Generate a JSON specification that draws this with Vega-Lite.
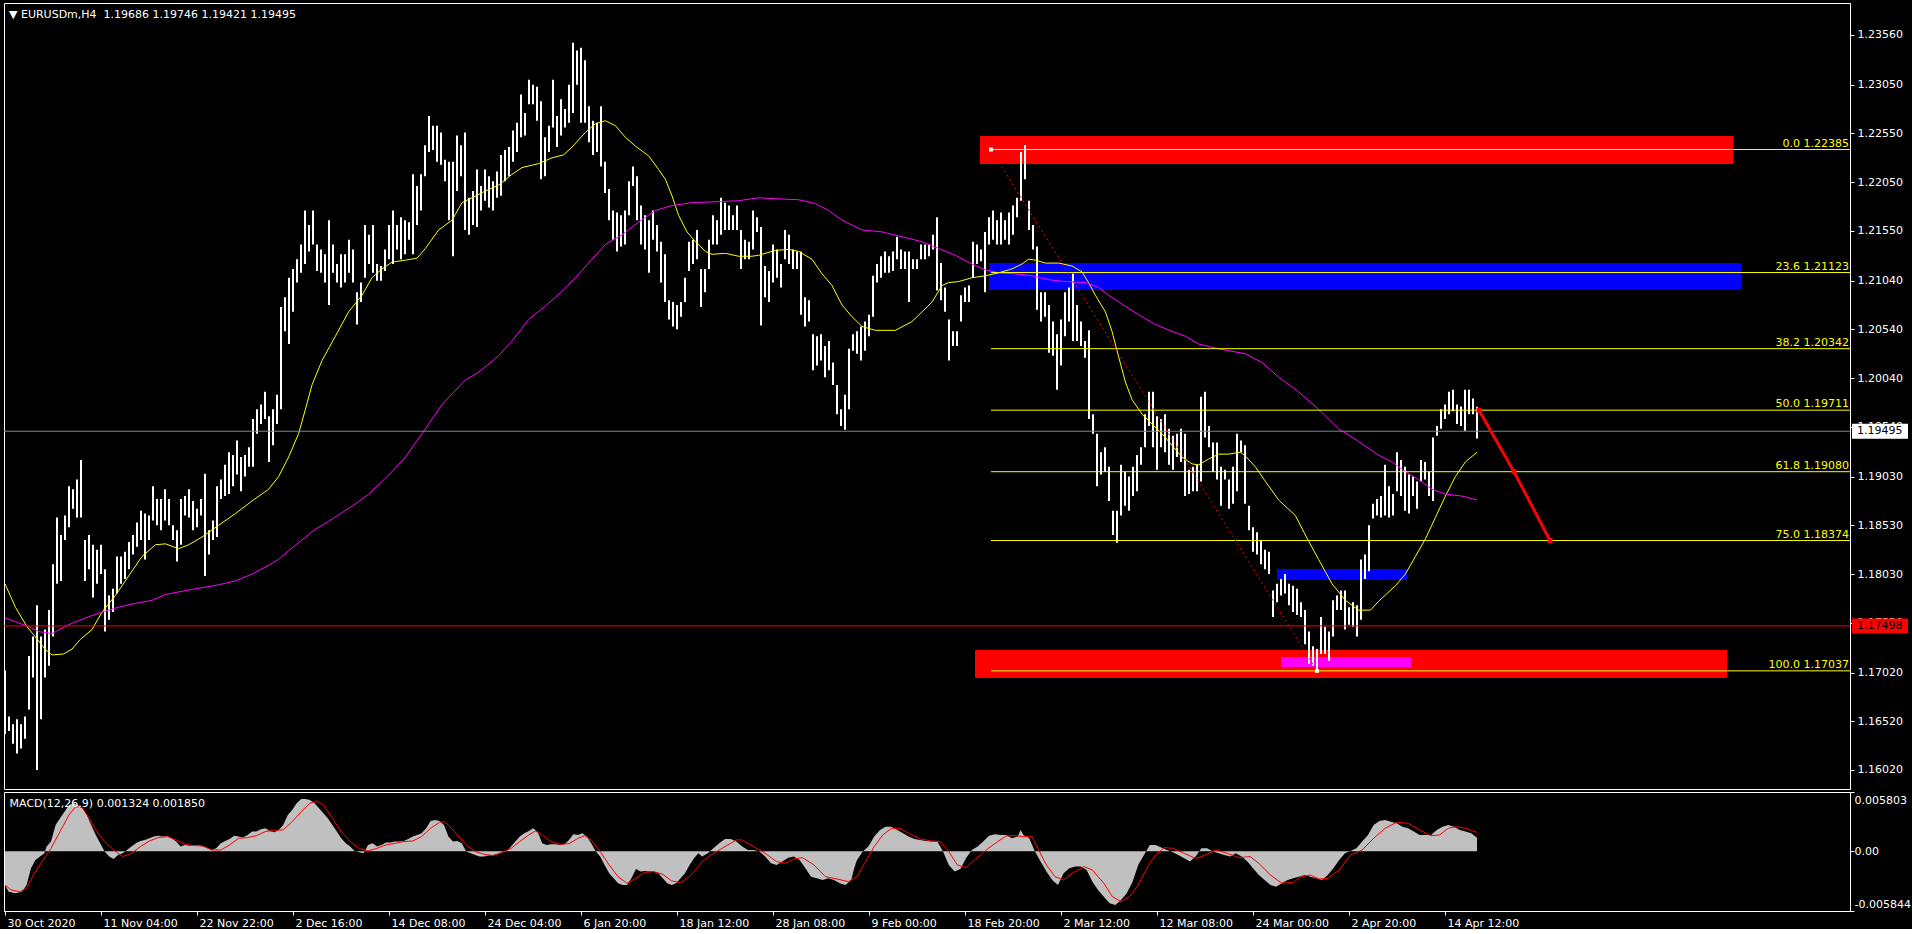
{
"$schema": "https://vega.github.io/schema/vega-lite/v6.json",
"background": "#000000",
"padding": {"left": 2, "top": 2, "right": 0, "bottom": 0},
"spacing": 3,
"bounds": "flush",
"config": {
  "view": {"stroke": "#ffffff", "strokeWidth": 1},
  "font": "DejaVu Sans",
  "axis": {"grid": false, "labelColor": "#ffffff", "tickColor": "#ffffff", "domainColor": "#ffffff", "labelFont": "DejaVu Sans", "labelFontSize": 11, "tickSize": 4, "labelPadding": 3, "titleOpacity": 0}
},
"datasets": {
  "zones": [
    {"zone": "top", "i1": 487.5, "i2": 864, "p1": 1.22237, "p2": 1.22524},
    {"zone": "fib", "i1": 492, "i2": 868, "p1": 1.20944, "p2": 1.21221},
    {"zone": "bottom", "i1": 485, "i2": 861, "p1": 1.16964, "p2": 1.17251},
    {"zone": "small", "i1": 636, "i2": 701, "p1": 1.17969, "p2": 1.18082},
    {"zone": "pink", "i1": 638, "i2": 703, "p1": 1.17077, "p2": 1.17179}
  ],
  "fib": [
    {"label": "0.0 1.22385", "p": 1.22385},
    {"label": "23.6 1.21123", "p": 1.21123},
    {"label": "38.2 1.20342", "p": 1.20342},
    {"label": "50.0 1.19711", "p": 1.19711},
    {"label": "61.8 1.19080", "p": 1.19080},
    {"label": "75.0 1.18374", "p": 1.18374},
    {"label": "100.0 1.17037", "p": 1.17037}
  ],
  "trend": [{"i": 493, "p": 1.22385}, {"i": 656, "p": 1.17037}],
  "arrow": [{"i": 737, "p": 1.19711}, {"i": 754.5, "p": 1.19080}, {"i": 772.5, "p": 1.18374}],
  "hlines": [{"name": "bid", "p": 1.19495, "label": "1.19495"}, {"name": "alert", "p": 1.17498, "label": "1.17498"}],
  "bars": [
{"i":0,"h":1.1704,"l":1.1639},{"i":2,"h":1.1657,"l":1.1642},{"i":4,"h":1.1649,"l":1.1629},{"i":6,"h":1.1654,"l":1.1619},{"i":8,"h":1.1649,"l":1.1624},{"i":10,"h":1.1657,"l":1.1634},{"i":12,"h":1.1719,"l":1.1664},{"i":14,"h":1.1739,"l":1.1697},{"i":16,"h":1.1771,"l":1.1602},{"i":18,"h":1.1739,"l":1.1654},
{"i":20,"h":1.1746,"l":1.1697},{"i":22,"h":1.1766,"l":1.1709},{"i":24,"h":1.1813,"l":1.1739},{"i":26,"h":1.1861,"l":1.1793},{"i":28,"h":1.1843,"l":1.1796},{"i":30,"h":1.1863,"l":1.1838},{"i":32,"h":1.1893,"l":1.1851},{"i":34,"h":1.1890,"l":1.1870},{"i":36,"h":1.1900,"l":1.1861},{"i":38,"h":1.1920,"l":1.1861},
{"i":40,"h":1.1838,"l":1.1796},{"i":42,"h":1.1843,"l":1.1808},{"i":44,"h":1.1833,"l":1.1779},{"i":46,"h":1.1828,"l":1.1793},{"i":48,"h":1.1833,"l":1.1803},{"i":50,"h":1.1808,"l":1.1744},{"i":52,"h":1.1781,"l":1.1756},{"i":54,"h":1.1788,"l":1.1764},{"i":56,"h":1.1821,"l":1.1783},{"i":58,"h":1.1821,"l":1.1793},
{"i":60,"h":1.1826,"l":1.1798},{"i":62,"h":1.1836,"l":1.1808},{"i":64,"h":1.1843,"l":1.1823},{"i":66,"h":1.1856,"l":1.1831},{"i":68,"h":1.1868,"l":1.1838},{"i":70,"h":1.1865,"l":1.1818},{"i":72,"h":1.1863,"l":1.1838},{"i":74,"h":1.1893,"l":1.1858},{"i":76,"h":1.1880,"l":1.1853},{"i":78,"h":1.1880,"l":1.1848},
{"i":80,"h":1.1890,"l":1.1858},{"i":82,"h":1.1880,"l":1.1853},{"i":84,"h":1.1853,"l":1.1838},{"i":86,"h":1.1848,"l":1.1816},{"i":88,"h":1.1880,"l":1.1833},{"i":90,"h":1.1883,"l":1.1863},{"i":92,"h":1.1890,"l":1.1861},{"i":94,"h":1.1878,"l":1.1848},{"i":96,"h":1.1870,"l":1.1851},{"i":98,"h":1.1880,"l":1.1863},
{"i":100,"h":1.1906,"l":1.1801},{"i":102,"h":1.1848,"l":1.1823},{"i":104,"h":1.1858,"l":1.1838},{"i":106,"h":1.1893,"l":1.1841},{"i":108,"h":1.1900,"l":1.1880},{"i":110,"h":1.1915,"l":1.1883},{"i":112,"h":1.1928,"l":1.1885},{"i":114,"h":1.1925,"l":1.1893},{"i":116,"h":1.1940,"l":1.1905},{"i":118,"h":1.1923,"l":1.1888},
{"i":120,"h":1.1925,"l":1.1903},{"i":122,"h":1.1933,"l":1.1913},{"i":124,"h":1.1962,"l":1.1913},{"i":126,"h":1.1972,"l":1.1947},{"i":128,"h":1.1977,"l":1.1957},{"i":130,"h":1.1990,"l":1.1962},{"i":132,"h":1.1965,"l":1.1918},{"i":134,"h":1.1972,"l":1.1935},{"i":136,"h":1.1987,"l":1.1957},{"i":138,"h":1.2077,"l":1.1972},
{"i":140,"h":1.2087,"l":1.2052},{"i":142,"h":1.2107,"l":1.2039},{"i":144,"h":1.2116,"l":1.2072},{"i":146,"h":1.2126,"l":1.2102},{"i":148,"h":1.2141,"l":1.2112},{"i":150,"h":1.2176,"l":1.2121},{"i":152,"h":1.2161,"l":1.2134},{"i":154,"h":1.2176,"l":1.2141},{"i":156,"h":1.2141,"l":1.2114},{"i":158,"h":1.2136,"l":1.2112},
{"i":160,"h":1.2131,"l":1.2102},{"i":162,"h":1.2166,"l":1.2079},{"i":164,"h":1.2141,"l":1.2112},{"i":166,"h":1.2121,"l":1.2102},{"i":168,"h":1.2131,"l":1.2097},{"i":170,"h":1.2131,"l":1.2102},{"i":172,"h":1.2146,"l":1.2112},{"i":174,"h":1.2136,"l":1.2102},{"i":176,"h":1.2092,"l":1.2059},{"i":178,"h":1.2102,"l":1.2082},
{"i":180,"h":1.2161,"l":1.2107},{"i":182,"h":1.2151,"l":1.2121},{"i":184,"h":1.2161,"l":1.2112},{"i":186,"h":1.2121,"l":1.2104},{"i":188,"h":1.2119,"l":1.2104},{"i":190,"h":1.2136,"l":1.2114},{"i":192,"h":1.2161,"l":1.2126},{"i":194,"h":1.2176,"l":1.2121},{"i":196,"h":1.2161,"l":1.2136},{"i":198,"h":1.2169,"l":1.2126},
{"i":200,"h":1.2166,"l":1.2131},{"i":202,"h":1.2164,"l":1.2146},{"i":204,"h":1.2213,"l":1.2131},{"i":206,"h":1.2201,"l":1.2161},{"i":208,"h":1.2213,"l":1.2176},{"i":210,"h":1.2243,"l":1.2211},{"i":212,"h":1.2273,"l":1.2236},{"i":214,"h":1.2263,"l":1.2238},{"i":216,"h":1.2263,"l":1.2226},{"i":218,"h":1.2256,"l":1.2223},
{"i":220,"h":1.2228,"l":1.2206},{"i":222,"h":1.2226,"l":1.2166},{"i":224,"h":1.2226,"l":1.2129},{"i":226,"h":1.2253,"l":1.2196},{"i":228,"h":1.2243,"l":1.2211},{"i":230,"h":1.2256,"l":1.2156},{"i":232,"h":1.2189,"l":1.2151},{"i":234,"h":1.2196,"l":1.2161},{"i":236,"h":1.2218,"l":1.2159},{"i":238,"h":1.2201,"l":1.2176},
{"i":240,"h":1.2218,"l":1.2186},{"i":242,"h":1.2211,"l":1.2179},{"i":244,"h":1.2206,"l":1.2176},{"i":246,"h":1.2216,"l":1.2189},{"i":248,"h":1.2233,"l":1.2191},{"i":250,"h":1.2238,"l":1.2206},{"i":252,"h":1.2241,"l":1.2211},{"i":254,"h":1.2258,"l":1.2226},{"i":256,"h":1.2266,"l":1.2236},{"i":258,"h":1.2295,"l":1.2251},
{"i":260,"h":1.2276,"l":1.2253},{"i":262,"h":1.2310,"l":1.2285},{"i":264,"h":1.2305,"l":1.2285},{"i":266,"h":1.2303,"l":1.2268},{"i":268,"h":1.2288,"l":1.2208},{"i":270,"h":1.2251,"l":1.2211},{"i":272,"h":1.2263,"l":1.2236},{"i":274,"h":1.2310,"l":1.2261},{"i":276,"h":1.2273,"l":1.2241},{"i":278,"h":1.2290,"l":1.2253},
{"i":280,"h":1.2280,"l":1.2261},{"i":282,"h":1.2305,"l":1.2266},{"i":284,"h":1.2348,"l":1.2276},{"i":286,"h":1.2340,"l":1.2305},{"i":288,"h":1.2343,"l":1.2266},{"i":290,"h":1.2330,"l":1.2266},{"i":292,"h":1.2283,"l":1.2246},{"i":294,"h":1.2268,"l":1.2233},{"i":296,"h":1.2266,"l":1.2236},{"i":298,"h":1.2283,"l":1.2221},
{"i":300,"h":1.2226,"l":1.2194},{"i":302,"h":1.2198,"l":1.2166},{"i":304,"h":1.2176,"l":1.2146},{"i":306,"h":1.2174,"l":1.2134},{"i":308,"h":1.2171,"l":1.2139},{"i":310,"h":1.2176,"l":1.2141},{"i":312,"h":1.2206,"l":1.2171},{"i":314,"h":1.2221,"l":1.2201},{"i":316,"h":1.2211,"l":1.2166},{"i":318,"h":1.2181,"l":1.2141},
{"i":320,"h":1.2171,"l":1.2136},{"i":322,"h":1.2166,"l":1.2112},{"i":324,"h":1.2176,"l":1.2146},{"i":326,"h":1.2161,"l":1.2134},{"i":328,"h":1.2144,"l":1.2102},{"i":330,"h":1.2131,"l":1.2082},{"i":332,"h":1.2084,"l":1.2064},{"i":334,"h":1.2082,"l":1.2057},{"i":336,"h":1.2079,"l":1.2054},{"i":338,"h":1.2082,"l":1.2067},
{"i":340,"h":1.2107,"l":1.2082},{"i":342,"h":1.2144,"l":1.2114},{"i":344,"h":1.2146,"l":1.2121},{"i":346,"h":1.2156,"l":1.2126},{"i":348,"h":1.2116,"l":1.2077},{"i":350,"h":1.2116,"l":1.2092},{"i":352,"h":1.2146,"l":1.2116},{"i":354,"h":1.2171,"l":1.2141},{"i":356,"h":1.2166,"l":1.2141},{"i":358,"h":1.2189,"l":1.2151},
{"i":360,"h":1.2184,"l":1.2156},{"i":362,"h":1.2181,"l":1.2156},{"i":364,"h":1.2171,"l":1.2156},{"i":366,"h":1.2181,"l":1.2156},{"i":368,"h":1.2156,"l":1.2116},{"i":370,"h":1.2146,"l":1.2126},{"i":372,"h":1.2144,"l":1.2126},{"i":374,"h":1.2176,"l":1.2136},{"i":376,"h":1.2169,"l":1.2154},{"i":378,"h":1.2159,"l":1.2058},
{"i":380,"h":1.2119,"l":1.2087},{"i":382,"h":1.2114,"l":1.2082},{"i":384,"h":1.2141,"l":1.2102},{"i":386,"h":1.2136,"l":1.2107},{"i":388,"h":1.2121,"l":1.2097},{"i":390,"h":1.2156,"l":1.2126},{"i":392,"h":1.2151,"l":1.2121},{"i":394,"h":1.2136,"l":1.2116},{"i":396,"h":1.2134,"l":1.2116},{"i":398,"h":1.2134,"l":1.2069},
{"i":400,"h":1.2087,"l":1.2057},{"i":402,"h":1.2084,"l":1.2062},{"i":404,"h":1.2049,"l":1.2012},{"i":406,"h":1.2047,"l":1.2017},{"i":408,"h":1.2049,"l":1.2022},{"i":410,"h":1.2037,"l":1.2005},{"i":412,"h":1.2042,"l":1.2012},{"i":414,"h":1.2020,"l":1.1997},{"i":416,"h":1.1997,"l":1.1967},{"i":418,"h":1.1972,"l":1.1955},
{"i":420,"h":1.1987,"l":1.1951},{"i":422,"h":1.2034,"l":1.1972},{"i":424,"h":1.2049,"l":1.2032},{"i":426,"h":1.2052,"l":1.2029},{"i":428,"h":1.2057,"l":1.2022},{"i":430,"h":1.2062,"l":1.2032},{"i":432,"h":1.2069,"l":1.2047},{"i":434,"h":1.2109,"l":1.2067},{"i":436,"h":1.2121,"l":1.2102},{"i":438,"h":1.2129,"l":1.2107},
{"i":440,"h":1.2134,"l":1.2112},{"i":442,"h":1.2129,"l":1.2112},{"i":444,"h":1.2134,"l":1.2114},{"i":446,"h":1.2149,"l":1.2126},{"i":448,"h":1.2136,"l":1.2116},{"i":450,"h":1.2134,"l":1.2116},{"i":452,"h":1.2134,"l":1.2082},{"i":454,"h":1.2126,"l":1.2116},{"i":456,"h":1.2126,"l":1.2116},{"i":458,"h":1.2141,"l":1.2126},
{"i":460,"h":1.2141,"l":1.2126},{"i":462,"h":1.2141,"l":1.2129},{"i":464,"h":1.2151,"l":1.2136},{"i":466,"h":1.2169,"l":1.2094},{"i":468,"h":1.2122,"l":1.2084},{"i":470,"h":1.2097,"l":1.2072},{"i":472,"h":1.2064,"l":1.2022},{"i":474,"h":1.2052,"l":1.2037},{"i":476,"h":1.2052,"l":1.2037},{"i":478,"h":1.2089,"l":1.2062},
{"i":480,"h":1.2097,"l":1.2082},{"i":482,"h":1.2099,"l":1.2082},{"i":484,"h":1.2144,"l":1.2107},{"i":486,"h":1.2141,"l":1.2121},{"i":488,"h":1.2136,"l":1.2124},{"i":490,"h":1.2154,"l":1.2092},{"i":492,"h":1.2169,"l":1.2141},{"i":494,"h":1.2176,"l":1.2146},{"i":496,"h":1.2166,"l":1.2141},{"i":498,"h":1.2174,"l":1.2141},
{"i":500,"h":1.2166,"l":1.2146},{"i":502,"h":1.2174,"l":1.2141},{"i":504,"h":1.2181,"l":1.2151},{"i":506,"h":1.2189,"l":1.2169},{"i":508,"h":1.2236,"l":1.2186},{"i":510,"h":1.2243,"l":1.2208},{"i":512,"h":1.2186,"l":1.2156},{"i":514,"h":1.2161,"l":1.2136},{"i":516,"h":1.2139,"l":1.2074},{"i":518,"h":1.2092,"l":1.2062},
{"i":520,"h":1.2092,"l":1.2067},{"i":522,"h":1.2079,"l":1.2030},{"i":524,"h":1.2062,"l":1.2027},{"i":526,"h":1.2049,"l":1.1992},{"i":528,"h":1.2064,"l":1.2017},{"i":530,"h":1.2092,"l":1.2047},{"i":532,"h":1.2097,"l":1.2062},{"i":534,"h":1.2111,"l":1.2042},{"i":536,"h":1.2079,"l":1.2042},{"i":538,"h":1.2062,"l":1.2037},
{"i":540,"h":1.2042,"l":1.2025},{"i":542,"h":1.2053,"l":1.1962},{"i":544,"h":1.1967,"l":1.1947},{"i":546,"h":1.1947,"l":1.1893},{"i":548,"h":1.1928,"l":1.1905},{"i":550,"h":1.1933,"l":1.1908},{"i":552,"h":1.1913,"l":1.1878},{"i":554,"h":1.1868,"l":1.1843},{"i":556,"h":1.1868,"l":1.1835},{"i":558,"h":1.1915,"l":1.1863},
{"i":560,"h":1.1908,"l":1.1873},{"i":562,"h":1.1903,"l":1.1868},{"i":564,"h":1.1913,"l":1.1883},{"i":566,"h":1.1925,"l":1.1888},{"i":568,"h":1.1933,"l":1.1915},{"i":570,"h":1.1967,"l":1.1933},{"i":572,"h":1.1990,"l":1.1955},{"i":574,"h":1.1990,"l":1.1933},{"i":576,"h":1.1965,"l":1.1910},{"i":578,"h":1.1962,"l":1.1933},
{"i":580,"h":1.1967,"l":1.1928},{"i":582,"h":1.1952,"l":1.1915},{"i":584,"h":1.1945,"l":1.1910},{"i":586,"h":1.1947,"l":1.1923},{"i":588,"h":1.1952,"l":1.1918},{"i":590,"h":1.1947,"l":1.1883},{"i":592,"h":1.1910,"l":1.1885},{"i":594,"h":1.1913,"l":1.1888},{"i":596,"h":1.1915,"l":1.1888},{"i":598,"h":1.1985,"l":1.1898},
{"i":600,"h":1.1990,"l":1.1943},{"i":602,"h":1.1955,"l":1.1933},{"i":604,"h":1.1938,"l":1.1908},{"i":606,"h":1.1938,"l":1.1900},{"i":608,"h":1.1913,"l":1.1873},{"i":610,"h":1.1910,"l":1.1900},{"i":612,"h":1.1900,"l":1.1870},{"i":614,"h":1.1913,"l":1.1875},{"i":616,"h":1.1947,"l":1.1888},{"i":618,"h":1.1940,"l":1.1928},
{"i":620,"h":1.1935,"l":1.1875},{"i":622,"h":1.1873,"l":1.1848},{"i":624,"h":1.1851,"l":1.1826},{"i":626,"h":1.1846,"l":1.1823},{"i":628,"h":1.1838,"l":1.1813},{"i":630,"h":1.1828,"l":1.1808},{"i":632,"h":1.1826,"l":1.1803},{"i":634,"h":1.1786,"l":1.1759},{"i":636,"h":1.1793,"l":1.1774},{"i":638,"h":1.1798,"l":1.1781},
{"i":640,"h":1.1803,"l":1.1783},{"i":642,"h":1.1793,"l":1.1771},{"i":644,"h":1.1791,"l":1.1764},{"i":646,"h":1.1788,"l":1.1761},{"i":648,"h":1.1774,"l":1.1759},{"i":650,"h":1.1766,"l":1.1731},{"i":652,"h":1.1744,"l":1.1711},{"i":654,"h":1.1729,"l":1.1709},{"i":656,"h":1.1726,"l":1.1703},{"i":658,"h":1.1759,"l":1.1721},
{"i":660,"h":1.1749,"l":1.1721},{"i":662,"h":1.1744,"l":1.1714},{"i":664,"h":1.1776,"l":1.1739},{"i":666,"h":1.1781,"l":1.1766},{"i":668,"h":1.1786,"l":1.1766},{"i":670,"h":1.1786,"l":1.1746},{"i":672,"h":1.1769,"l":1.1751},{"i":674,"h":1.1774,"l":1.1749},{"i":676,"h":1.1771,"l":1.1739},{"i":678,"h":1.1818,"l":1.1756},
{"i":680,"h":1.1823,"l":1.1798},{"i":682,"h":1.1853,"l":1.1806},{"i":684,"h":1.1875,"l":1.1860},{"i":686,"h":1.1880,"l":1.1863},{"i":688,"h":1.1883,"l":1.1861},{"i":690,"h":1.1915,"l":1.1863},{"i":692,"h":1.1893,"l":1.1861},{"i":694,"h":1.1885,"l":1.1863},{"i":696,"h":1.1928,"l":1.1888},{"i":698,"h":1.1920,"l":1.1883},
{"i":700,"h":1.1913,"l":1.1868},{"i":702,"h":1.1905,"l":1.1865},{"i":704,"h":1.1903,"l":1.1883},{"i":706,"h":1.1898,"l":1.1870},{"i":708,"h":1.1920,"l":1.1898},{"i":710,"h":1.1918,"l":1.1900},{"i":712,"h":1.1908,"l":1.1883},{"i":714,"h":1.1943,"l":1.1878},{"i":716,"h":1.1955,"l":1.1945},{"i":718,"h":1.1972,"l":1.1952},
{"i":720,"h":1.1977,"l":1.1962},{"i":722,"h":1.1990,"l":1.1967},{"i":724,"h":1.1992,"l":1.1970},{"i":726,"h":1.1977,"l":1.1957},{"i":728,"h":1.1975,"l":1.1955},{"i":730,"h":1.1992,"l":1.1950},{"i":732,"h":1.1992,"l":1.1967},{"i":734,"h":1.1983,"l":1.1967},{"i":736,"h":1.19746,"l":1.19421}
  ],
  "ma": [
{"ma":"fast","i":0,"p":1.1793},{"ma":"fast","i":5.2,"p":1.1769},{"ma":"fast","i":11,"p":1.1749},{"ma":"fast","i":15,"p":1.1739},{"ma":"fast","i":20,"p":1.1726},{"ma":"fast","i":23.5,"p":1.1720},{"ma":"fast","i":29.3,"p":1.1721},{"ma":"fast","i":33.5,"p":1.1726},{"ma":"fast","i":37.7,"p":1.1736},{"ma":"fast","i":43.5,"p":1.1746},
{"ma":"fast","i":48.5,"p":1.1764},{"ma":"fast","i":55.2,"p":1.1781},{"ma":"fast","i":61.8,"p":1.1801},{"ma":"fast","i":68.5,"p":1.1821},{"ma":"fast","i":75.2,"p":1.1833},{"ma":"fast","i":80.2,"p":1.1834},{"ma":"fast","i":86.8,"p":1.1829},{"ma":"fast","i":91.8,"p":1.1833},{"ma":"fast","i":98.5,"p":1.1841},{"ma":"fast","i":106.8,"p":1.1853},
{"ma":"fast","i":115.2,"p":1.1865},{"ma":"fast","i":123.5,"p":1.1878},{"ma":"fast","i":131.8,"p":1.1890},{"ma":"fast","i":136.8,"p":1.1903},{"ma":"fast","i":141.8,"p":1.1923},{"ma":"fast","i":146.8,"p":1.1947},{"ma":"fast","i":150.2,"p":1.1972},{"ma":"fast","i":153.5,"p":1.1997},{"ma":"fast","i":158.5,"p":1.2022},{"ma":"fast","i":165.2,"p":1.2047},
{"ma":"fast","i":171.8,"p":1.2072},{"ma":"fast","i":178.5,"p":1.2089},{"ma":"fast","i":183.5,"p":1.2107},{"ma":"fast","i":188.5,"p":1.2116},{"ma":"fast","i":193.5,"p":1.2123},{"ma":"fast","i":200.2,"p":1.2125},{"ma":"fast","i":206,"p":1.2127},{"ma":"fast","i":210.2,"p":1.2137},{"ma":"fast","i":216.8,"p":1.2156},{"ma":"fast","i":223.5,"p":1.2166},
{"ma":"fast","i":228.5,"p":1.2184},{"ma":"fast","i":233.5,"p":1.2189},{"ma":"fast","i":240.2,"p":1.2196},{"ma":"fast","i":246.8,"p":1.2202},{"ma":"fast","i":253.5,"p":1.2213},{"ma":"fast","i":258.5,"p":1.2220},{"ma":"fast","i":266.8,"p":1.2224},{"ma":"fast","i":273.5,"p":1.2230},{"ma":"fast","i":279.3,"p":1.2233},{"ma":"fast","i":283.5,"p":1.2241},
{"ma":"fast","i":290.2,"p":1.2256},{"ma":"fast","i":295.2,"p":1.2265},{"ma":"fast","i":300.2,"p":1.2268},{"ma":"fast","i":305.2,"p":1.2263},{"ma":"fast","i":310.2,"p":1.2251},{"ma":"fast","i":315.2,"p":1.2242},{"ma":"fast","i":321.8,"p":1.2232},{"ma":"fast","i":326.8,"p":1.2218},{"ma":"fast","i":330.2,"p":1.2208},{"ma":"fast","i":333.5,"p":1.2191},
{"ma":"fast","i":336.8,"p":1.2171},{"ma":"fast","i":341,"p":1.2154},{"ma":"fast","i":345.2,"p":1.2144},{"ma":"fast","i":350.2,"p":1.2134},{"ma":"fast","i":353.5,"p":1.2131},{"ma":"fast","i":360.2,"p":1.2132},{"ma":"fast","i":366.8,"p":1.2129},{"ma":"fast","i":373.5,"p":1.2129},{"ma":"fast","i":376.8,"p":1.2130},{"ma":"fast","i":385.2,"p":1.2135},
{"ma":"fast","i":391.8,"p":1.2136},{"ma":"fast","i":396.8,"p":1.2134},{"ma":"fast","i":403.5,"p":1.2126},{"ma":"fast","i":408.5,"p":1.2111},{"ma":"fast","i":413.5,"p":1.2099},{"ma":"fast","i":418.5,"p":1.2079},{"ma":"fast","i":423.5,"p":1.2067},{"ma":"fast","i":428.5,"p":1.2057},{"ma":"fast","i":435.2,"p":1.2053},{"ma":"fast","i":445.2,"p":1.2053},
{"ma":"fast","i":453.5,"p":1.2062},{"ma":"fast","i":463.5,"p":1.2082},{"ma":"fast","i":468.5,"p":1.2099},{"ma":"fast","i":471.8,"p":1.2102},{"ma":"fast","i":476.8,"p":1.2103},{"ma":"fast","i":483.5,"p":1.2107},{"ma":"fast","i":490.2,"p":1.2109},{"ma":"fast","i":496.8,"p":1.2112},{"ma":"fast","i":503.5,"p":1.2116},{"ma":"fast","i":508.5,"p":1.2121},
{"ma":"fast","i":511.8,"p":1.2126},{"ma":"fast","i":515.2,"p":1.2125},{"ma":"fast","i":520.2,"p":1.2122},{"ma":"fast","i":526.8,"p":1.2122},{"ma":"fast","i":533.5,"p":1.2119},{"ma":"fast","i":538.5,"p":1.2113},{"ma":"fast","i":541.8,"p":1.2102},{"ma":"fast","i":545.2,"p":1.2089},{"ma":"fast","i":550.2,"p":1.2072},{"ma":"fast","i":553.5,"p":1.2052},
{"ma":"fast","i":556.8,"p":1.2026},{"ma":"fast","i":560.2,"p":1.2000},{"ma":"fast","i":563.5,"p":1.1982},{"ma":"fast","i":568.5,"p":1.1967},{"ma":"fast","i":573.5,"p":1.1957},{"ma":"fast","i":578.5,"p":1.1947},{"ma":"fast","i":583.5,"p":1.1935},{"ma":"fast","i":588.5,"p":1.1923},{"ma":"fast","i":593.5,"p":1.1916},{"ma":"fast","i":596.8,"p":1.1915},
{"ma":"fast","i":601.8,"p":1.1921},{"ma":"fast","i":606.8,"p":1.1926},{"ma":"fast","i":611.8,"p":1.1926},{"ma":"fast","i":617.7,"p":1.1928},{"ma":"fast","i":620.2,"p":1.1924},{"ma":"fast","i":625.2,"p":1.1913},{"ma":"fast","i":630.2,"p":1.1898},{"ma":"fast","i":636.8,"p":1.1879},{"ma":"fast","i":645.2,"p":1.1863},{"ma":"fast","i":650.2,"p":1.1843},
{"ma":"fast","i":656.8,"p":1.1818},{"ma":"fast","i":663.5,"p":1.1793},{"ma":"fast","i":670.2,"p":1.1776},{"ma":"fast","i":676.8,"p":1.1766},{"ma":"fast","i":682.7,"p":1.1766},{"ma":"fast","i":686.8,"p":1.1775},{"ma":"fast","i":695.2,"p":1.1791},{"ma":"fast","i":700.2,"p":1.1803},{"ma":"fast","i":705.2,"p":1.1821},{"ma":"fast","i":710.2,"p":1.1839},
{"ma":"fast","i":715.2,"p":1.1861},{"ma":"fast","i":720.2,"p":1.1883},{"ma":"fast","i":725.2,"p":1.1903},{"ma":"fast","i":730.2,"p":1.1918},{"ma":"fast","i":736,"p":1.1928},
{"ma":"slow","i":0,"p":1.1758},{"ma":"slow","i":5.2,"p":1.1754},{"ma":"slow","i":11.8,"p":1.1749},{"ma":"slow","i":16.8,"p":1.1744},{"ma":"slow","i":23.5,"p":1.1742},{"ma":"slow","i":31.8,"p":1.1751},{"ma":"slow","i":40.2,"p":1.1758},{"ma":"slow","i":48.5,"p":1.1764},{"ma":"slow","i":56.8,"p":1.1769},{"ma":"slow","i":65.2,"p":1.1773},
{"ma":"slow","i":73.5,"p":1.1776},{"ma":"slow","i":80.2,"p":1.1782},{"ma":"slow","i":90.2,"p":1.1786},{"ma":"slow","i":98.5,"p":1.1789},{"ma":"slow","i":106.8,"p":1.1792},{"ma":"slow","i":115.2,"p":1.1796},{"ma":"slow","i":123.5,"p":1.1803},{"ma":"slow","i":131.8,"p":1.1812},{"ma":"slow","i":136.8,"p":1.1818},{"ma":"slow","i":141.8,"p":1.1827},
{"ma":"slow","i":148.5,"p":1.1838},{"ma":"slow","i":155.2,"p":1.1849},{"ma":"slow","i":161.8,"p":1.1857},{"ma":"slow","i":168.5,"p":1.1866},{"ma":"slow","i":175.2,"p":1.1875},{"ma":"slow","i":181.8,"p":1.1885},{"ma":"slow","i":188.5,"p":1.1898},{"ma":"slow","i":193.5,"p":1.1908},{"ma":"slow","i":200.2,"p":1.1923},{"ma":"slow","i":208.5,"p":1.1947},
{"ma":"slow","i":218.5,"p":1.1977},{"ma":"slow","i":230.2,"p":1.2002},{"ma":"slow","i":236.8,"p":1.2010},{"ma":"slow","i":246.8,"p":1.2027},{"ma":"slow","i":253.5,"p":1.2042},{"ma":"slow","i":261.8,"p":1.2064},{"ma":"slow","i":270.2,"p":1.2078},{"ma":"slow","i":278.5,"p":1.2093},{"ma":"slow","i":285.2,"p":1.2107},{"ma":"slow","i":293.5,"p":1.2126},
{"ma":"slow","i":300.2,"p":1.2141},{"ma":"slow","i":308.5,"p":1.2151},{"ma":"slow","i":316.8,"p":1.2164},{"ma":"slow","i":325.2,"p":1.2176},{"ma":"slow","i":333.5,"p":1.2181},{"ma":"slow","i":343.5,"p":1.2184},{"ma":"slow","i":356.8,"p":1.2185},{"ma":"slow","i":366.8,"p":1.2186},{"ma":"slow","i":376.8,"p":1.2189},{"ma":"slow","i":385.2,"p":1.2188},
{"ma":"slow","i":396.8,"p":1.2187},{"ma":"slow","i":405.2,"p":1.2183},{"ma":"slow","i":411.8,"p":1.2176},{"ma":"slow","i":418.5,"p":1.2166},{"ma":"slow","i":428.5,"p":1.2156},{"ma":"slow","i":438.5,"p":1.2154},{"ma":"slow","i":448.5,"p":1.2149},{"ma":"slow","i":458.5,"p":1.2144},{"ma":"slow","i":466.8,"p":1.2137},{"ma":"slow","i":475.2,"p":1.2130},
{"ma":"slow","i":483.5,"p":1.2121},{"ma":"slow","i":490.2,"p":1.2115},{"ma":"slow","i":496.8,"p":1.2112},{"ma":"slow","i":505.2,"p":1.2111},{"ma":"slow","i":513.5,"p":1.2109},{"ma":"slow","i":521.8,"p":1.2105},{"ma":"slow","i":530.2,"p":1.2103},{"ma":"slow","i":540.2,"p":1.2102},{"ma":"slow","i":546.8,"p":1.2097},{"ma":"slow","i":551.8,"p":1.2089},
{"ma":"slow","i":558.5,"p":1.2080},{"ma":"slow","i":566.8,"p":1.2069},{"ma":"slow","i":575.2,"p":1.2059},{"ma":"slow","i":583.5,"p":1.2052},{"ma":"slow","i":590.2,"p":1.2047},{"ma":"slow","i":596.8,"p":1.2039},{"ma":"slow","i":606.8,"p":1.2034},{"ma":"slow","i":620.2,"p":1.2029},{"ma":"slow","i":628.5,"p":1.2020},{"ma":"slow","i":636.8,"p":1.2005},
{"ma":"slow","i":646.8,"p":1.1990},{"ma":"slow","i":656.8,"p":1.1972},{"ma":"slow","i":666.8,"p":1.1952},{"ma":"slow","i":676.8,"p":1.1939},{"ma":"slow","i":686.8,"p":1.1925},{"ma":"slow","i":693.5,"p":1.1918},{"ma":"slow","i":700.2,"p":1.1908},{"ma":"slow","i":706.8,"p":1.1900},{"ma":"slow","i":713.5,"p":1.1890},{"ma":"slow","i":720.2,"p":1.1885},
{"ma":"slow","i":728.5,"p":1.1883},{"ma":"slow","i":736,"p":1.1879}
  ],
  "macd": [
{"i":0,"v":-0.00330},{"i":1.85,"v":-0.00395},{"i":5.2,"v":-0.00411},{"i":8.5,"v":-0.00395},{"i":10.8,"v":-0.00330},{"i":13,"v":-0.00166},{"i":15.2,"v":-0.00085},{"i":17.5,"v":-0.00052},{"i":19.7,"v":-0.00020},{"i":20.8,"v":0.00046},
{"i":23,"v":0.00095},{"i":25.3,"v":0.00258},{"i":27.5,"v":0.00323},{"i":29.75,"v":0.00388},{"i":32,"v":0.00454},{"i":34.2,"v":0.00470},{"i":36.4,"v":0.00454},{"i":38.7,"v":0.00421},{"i":40.9,"v":0.00356},{"i":43.1,"v":0.00258},
{"i":45.4,"v":0.00160},{"i":47.6,"v":0.00078},{"i":49.8,"v":-0.00003},{"i":52.1,"v":-0.00052},{"i":54.3,"v":-0.00075},{"i":56.5,"v":-0.00036},{"i":58.8,"v":-0.00020},{"i":61,"v":0.00013},{"i":63.2,"v":0.00046},{"i":65.5,"v":0.00078},
{"i":67.7,"v":0.00101},{"i":69.9,"v":0.00111},{"i":72.2,"v":0.00127},{"i":74.4,"v":0.00144},{"i":76.6,"v":0.00153},{"i":78.9,"v":0.00144},{"i":81.1,"v":0.00153},{"i":83.3,"v":0.00127},{"i":85.6,"v":0.00095},{"i":87.8,"v":0.00046},
{"i":90,"v":0.00062},{"i":92.3,"v":0.00055},{"i":94.5,"v":0.00062},{"i":96.7,"v":0.00062},{"i":99,"v":0.00046},{"i":101.2,"v":0.00029},{"i":103.4,"v":0.00013},{"i":105.6,"v":0.00029},{"i":107.9,"v":0.00078},{"i":110.1,"v":0.00101},
{"i":112.3,"v":0.00121},{"i":114.6,"v":0.00153},{"i":116.8,"v":0.00144},{"i":119,"v":0.00134},{"i":121.3,"v":0.00160},{"i":123.5,"v":0.00193},{"i":125.7,"v":0.00193},{"i":128,"v":0.00215},{"i":130.2,"v":0.00225},{"i":132.4,"v":0.00199},
{"i":134.7,"v":0.00186},{"i":136.9,"v":0.00209},{"i":139.1,"v":0.00258},{"i":141.4,"v":0.00356},{"i":143.6,"v":0.00405},{"i":145.8,"v":0.00470},{"i":148.1,"v":0.00512},{"i":150.3,"v":0.00512},{"i":152.5,"v":0.00503},{"i":154.8,"v":0.00470},
{"i":157,"v":0.00421},{"i":159.2,"v":0.00372},{"i":161.4,"v":0.00323},{"i":163.7,"v":0.00258},{"i":165.9,"v":0.00193},{"i":168.1,"v":0.00127},{"i":170.4,"v":0.00078},{"i":172.6,"v":0.00046},{"i":174.8,"v":0.00003},{"i":177.1,"v":-0.00010},
{"i":179.3,"v":-0.00020},{"i":181.5,"v":0.00062},{"i":183.8,"v":0.00078},{"i":186,"v":0.00046},{"i":188.2,"v":0.00062},{"i":190.5,"v":0.00085},{"i":192.7,"v":0.00085},{"i":194.9,"v":0.00095},{"i":197.2,"v":0.00095},{"i":199.4,"v":0.00101},
{"i":201.6,"v":0.00121},{"i":203.9,"v":0.00144},{"i":206.1,"v":0.00160},{"i":208.3,"v":0.00176},{"i":210.6,"v":0.00225},{"i":212.8,"v":0.00297},{"i":215,"v":0.00307},{"i":217.3,"v":0.00297},{"i":219.5,"v":0.00258},{"i":221.7,"v":0.00144},
{"i":224,"v":0.00095},{"i":226.2,"v":0.00101},{"i":228.4,"v":0.00078},{"i":230.6,"v":-0.00003},{"i":232.9,"v":-0.00020},{"i":235.1,"v":-0.00036},{"i":237.3,"v":-0.00052},{"i":239.6,"v":-0.00052},{"i":241.8,"v":-0.00042},{"i":244,"v":-0.00036},
{"i":246.3,"v":-0.00029},{"i":248.5,"v":-0.00010},{"i":250.7,"v":-0.00003},{"i":253,"v":0.00046},{"i":255.2,"v":0.00095},{"i":257.4,"v":0.00144},{"i":259.7,"v":0.00176},{"i":261.9,"v":0.00199},{"i":264.1,"v":0.00225},{"i":266.4,"v":0.00186},
{"i":268.6,"v":0.00078},{"i":270.8,"v":0.00062},{"i":273,"v":0.00069},{"i":275.3,"v":0.00069},{"i":277.5,"v":0.00062},{"i":279.8,"v":0.00069},{"i":282,"v":0.00111},{"i":284.2,"v":0.00166},{"i":286.5,"v":0.00160},{"i":288.7,"v":0.00176},
{"i":290.9,"v":0.00144},{"i":293.1,"v":0.00078},{"i":295.4,"v":-0.00003},{"i":297.6,"v":-0.00052},{"i":299.8,"v":-0.00134},{"i":302.1,"v":-0.00215},{"i":304.3,"v":-0.00264},{"i":306.5,"v":-0.00313},{"i":308.8,"v":-0.00330},{"i":311,"v":-0.00330},
{"i":313.2,"v":-0.00264},{"i":315.5,"v":-0.00173},{"i":317.7,"v":-0.00199},{"i":319.9,"v":-0.00193},{"i":322.2,"v":-0.00199},{"i":324.4,"v":-0.00199},{"i":326.6,"v":-0.00215},{"i":328.9,"v":-0.00264},{"i":331.1,"v":-0.00313},{"i":333.3,"v":-0.00330},
{"i":335.6,"v":-0.00313},{"i":337.8,"v":-0.00264},{"i":340,"v":-0.00215},{"i":342.3,"v":-0.00134},{"i":344.5,"v":-0.00069},{"i":346.7,"v":-0.00020},{"i":348.5,"v":-0.00052},{"i":351.4,"v":-0.00020},{"i":354.2,"v":0.00029},{"i":357.1,"v":0.00078},
{"i":360,"v":0.00121},{"i":362.9,"v":0.00121},{"i":365.7,"v":0.00095},{"i":368.6,"v":0.00046},{"i":371.5,"v":0.00013},{"i":374.3,"v":0.00013},{"i":377.2,"v":-0.00003},{"i":380.1,"v":-0.00052},{"i":383,"v":-0.00117},{"i":385.8,"v":-0.00134},
{"i":388.7,"v":-0.00101},{"i":391.6,"v":-0.00062},{"i":394.4,"v":-0.00052},{"i":397.3,"v":-0.00085},{"i":400.2,"v":-0.00166},{"i":403,"v":-0.00248},{"i":405.9,"v":-0.00264},{"i":408.8,"v":-0.00281},{"i":411.6,"v":-0.00264},{"i":414.5,"v":-0.00281},
{"i":417.4,"v":-0.00313},{"i":420.3,"v":-0.00330},{"i":423.1,"v":-0.00281},{"i":424.6,"v":-0.00166},{"i":426,"v":-0.00085},{"i":428.9,"v":-0.00003},{"i":431.7,"v":0.00046},{"i":434.6,"v":0.00144},{"i":437.5,"v":0.00209},{"i":440.3,"v":0.00241},
{"i":443.2,"v":0.00241},{"i":446.1,"v":0.00209},{"i":449,"v":0.00176},{"i":451.8,"v":0.00144},{"i":454.7,"v":0.00121},{"i":457.6,"v":0.00111},{"i":460.4,"v":0.00101},{"i":463.3,"v":0.00095},{"i":466.2,"v":0.00095},{"i":469,"v":-0.00003},
{"i":471.9,"v":-0.00134},{"i":474.8,"v":-0.00199},{"i":477.7,"v":-0.00173},{"i":480.5,"v":-0.00069},{"i":483.4,"v":0.00013},{"i":486.3,"v":0.00046},{"i":489.1,"v":0.00095},{"i":492,"v":0.00153},{"i":494.9,"v":0.00166},{"i":497.8,"v":0.00160},
{"i":500.6,"v":0.00160},{"i":503.5,"v":0.00127},{"i":506.4,"v":0.00144},{"i":507.8,"v":0.00209},{"i":509.2,"v":0.00160},{"i":512.1,"v":0.00127},{"i":515,"v":-0.00003},{"i":517.8,"v":-0.00101},{"i":520.7,"v":-0.00199},{"i":523.6,"v":-0.00281},
{"i":526.5,"v":-0.00330},{"i":529.3,"v":-0.00215},{"i":532.2,"v":-0.00166},{"i":535.1,"v":-0.00150},{"i":537.9,"v":-0.00150},{"i":540.8,"v":-0.00183},{"i":543.7,"v":-0.00297},{"i":546.5,"v":-0.00378},{"i":549.4,"v":-0.00444},{"i":552.3,"v":-0.00509},
{"i":555.2,"v":-0.00525},{"i":558,"v":-0.00476},{"i":560.9,"v":-0.00411},{"i":563.8,"v":-0.00297},{"i":566.6,"v":-0.00134},{"i":569.5,"v":-0.00036},{"i":572.4,"v":0.00062},{"i":575.3,"v":0.00062},{"i":578.1,"v":0.00036},{"i":581,"v":0.00013},
{"i":583.9,"v":-0.00010},{"i":586.7,"v":-0.00036},{"i":589.6,"v":-0.00069},{"i":592.5,"v":-0.00101},{"i":595.3,"v":-0.00052},{"i":598.2,"v":0.00029},{"i":601.1,"v":0.00029},{"i":604,"v":-0.00003},{"i":606.8,"v":-0.00020},{"i":609.7,"v":-0.00036},
{"i":612.6,"v":-0.00052},{"i":615.4,"v":-0.00020},{"i":618.3,"v":-0.00052},{"i":621.2,"v":-0.00101},{"i":624,"v":-0.00166},{"i":626.9,"v":-0.00232},{"i":629.8,"v":-0.00281},{"i":632.7,"v":-0.00330},{"i":635.5,"v":-0.00346},{"i":638.4,"v":-0.00313},
{"i":641.3,"v":-0.00281},{"i":644.1,"v":-0.00264},{"i":647,"v":-0.00248},{"i":649.9,"v":-0.00232},{"i":652.7,"v":-0.00248},{"i":655.6,"v":-0.00264},{"i":658.5,"v":-0.00281},{"i":661.4,"v":-0.00232},{"i":664.2,"v":-0.00166},{"i":667.1,"v":-0.00085},
{"i":670,"v":-0.00020},{"i":672.8,"v":0.00003},{"i":675.7,"v":0.00029},{"i":678.6,"v":0.00095},{"i":681.5,"v":0.00160},{"i":684.3,"v":0.00258},{"i":687.2,"v":0.00297},{"i":690.1,"v":0.00307},{"i":692.9,"v":0.00290},{"i":695.8,"v":0.00274},
{"i":698.7,"v":0.00241},{"i":701.5,"v":0.00225},{"i":704.4,"v":0.00193},{"i":707.3,"v":0.00160},{"i":710.2,"v":0.00160},{"i":713,"v":0.00160},{"i":715.9,"v":0.00209},{"i":718.8,"v":0.00241},{"i":721.6,"v":0.00258},{"i":724.5,"v":0.00241},
{"i":727.4,"v":0.00209},{"i":730.2,"v":0.00193},{"i":733.1,"v":0.00176},{"i":736,"v":0.001324}
  ],
  "signal": [
{"i":0,"s":-0.00330},{"i":3,"s":-0.00378},{"i":7.4,"s":-0.00395},{"i":10.8,"s":-0.00362},{"i":14.1,"s":-0.00232},{"i":18.6,"s":-0.00101},{"i":23,"s":0.00029},{"i":27.5,"s":0.00193},{"i":32,"s":0.00356},{"i":35.3,"s":0.00437},
{"i":38.7,"s":0.00427},{"i":42,"s":0.00323},{"i":45.4,"s":0.00209},{"i":49.8,"s":0.00095},{"i":54.3,"s":0.00013},{"i":58.8,"s":-0.00052},{"i":63.2,"s":-0.00020},{"i":67.7,"s":0.00046},{"i":72.2,"s":0.00101},{"i":76.6,"s":0.00134},
{"i":81.1,"s":0.00144},{"i":85.6,"s":0.00111},{"i":90,"s":0.00069},{"i":94.5,"s":0.00055},{"i":99,"s":0.00052},{"i":103.4,"s":0.00013},{"i":107.9,"s":0.00013},{"i":112.3,"s":0.00062},{"i":116.8,"s":0.00127},{"i":121.3,"s":0.00134},
{"i":125.7,"s":0.00153},{"i":130.2,"s":0.00193},{"i":134.7,"s":0.00206},{"i":139.1,"s":0.00209},{"i":143.6,"s":0.00290},{"i":148.1,"s":0.00388},{"i":152.5,"s":0.00470},{"i":155.9,"s":0.00493},{"i":159.2,"s":0.00454},{"i":163.7,"s":0.00323},
{"i":168.1,"s":0.00193},{"i":172.6,"s":0.00095},{"i":177.1,"s":0.00029},{"i":181.5,"s":0.00003},{"i":186,"s":0.00029},{"i":190.5,"s":0.00062},{"i":194.9,"s":0.00078},{"i":199.4,"s":0.00095},{"i":203.9,"s":0.00101},{"i":208.3,"s":0.00144},
{"i":212.8,"s":0.00225},{"i":217.3,"s":0.00284},{"i":219.5,"s":0.00290},{"i":221.7,"s":0.00258},{"i":226.2,"s":0.00160},{"i":230.6,"s":0.00062},{"i":235.1,"s":-0.00003},{"i":239.6,"s":-0.00029},{"i":244,"s":-0.00042},{"i":248.5,"s":-0.00010},
{"i":253,"s":0.00029},{"i":257.4,"s":0.00095},{"i":261.9,"s":0.00160},{"i":265.2,"s":0.00199},{"i":268.6,"s":0.00160},{"i":273,"s":0.00095},{"i":277.5,"s":0.00069},{"i":282,"s":0.00075},{"i":286.5,"s":0.00127},{"i":289.8,"s":0.00153},
{"i":293.1,"s":0.00111},{"i":297.6,"s":-0.00003},{"i":302.1,"s":-0.00134},{"i":306.5,"s":-0.00248},{"i":311,"s":-0.00313},{"i":315.5,"s":-0.00264},{"i":319.9,"s":-0.00206},{"i":324.4,"s":-0.00199},{"i":328.9,"s":-0.00225},{"i":333.3,"s":-0.00290},
{"i":337.8,"s":-0.00307},{"i":342.3,"s":-0.00248},{"i":346.7,"s":-0.00150},{"i":348.5,"s":-0.00101},{"i":354.2,"s":-0.00020},{"i":360,"s":0.00046},{"i":365.7,"s":0.00111},{"i":368.6,"s":0.00111},{"i":374.3,"s":0.00046},{"i":380.1,"s":-0.00020},
{"i":385.8,"s":-0.00101},{"i":390.1,"s":-0.00117},{"i":394.4,"s":-0.00075},{"i":398.7,"s":-0.00062},{"i":404.5,"s":-0.00134},{"i":410.2,"s":-0.00248},{"i":416,"s":-0.00271},{"i":421.7,"s":-0.00297},{"i":426,"s":-0.00248},{"i":430.3,"s":-0.00101},
{"i":434.6,"s":0.00046},{"i":438.9,"s":0.00160},{"i":443.2,"s":0.00225},{"i":447.5,"s":0.00225},{"i":451.8,"s":0.00176},{"i":457.6,"s":0.00121},{"i":463.3,"s":0.00101},{"i":467.6,"s":0.00095},{"i":471.9,"s":-0.00003},{"i":476.2,"s":-0.00134},
{"i":480.5,"s":-0.00160},{"i":484.8,"s":-0.00085},{"i":490.6,"s":0.00013},{"i":496.3,"s":0.00095},{"i":500.6,"s":0.00150},{"i":504.9,"s":0.00153},{"i":509.2,"s":0.00144},{"i":513.5,"s":0.00144},{"i":516.4,"s":0.00029},{"i":520.7,"s":-0.00134},
{"i":525,"s":-0.00248},{"i":529.3,"s":-0.00281},{"i":533.6,"s":-0.00215},{"i":539.4,"s":-0.00150},{"i":543.7,"s":-0.00183},{"i":549.4,"s":-0.00313},{"i":553.7,"s":-0.00444},{"i":558,"s":-0.00493},{"i":562.3,"s":-0.00444},{"i":566.6,"s":-0.00330},
{"i":570.9,"s":-0.00166},{"i":575.3,"s":-0.00036},{"i":579.6,"s":0.00036},{"i":583.9,"s":0.00029},{"i":589.6,"s":-0.00020},{"i":595.3,"s":-0.00069},{"i":599.6,"s":-0.00042},{"i":605.4,"s":0.00013},{"i":611.1,"s":-0.00020},{"i":616.9,"s":-0.00062},
{"i":622.6,"s":-0.00052},{"i":626.9,"s":-0.00117},{"i":632.7,"s":-0.00232},{"i":638.4,"s":-0.00313},{"i":644.1,"s":-0.00303},{"i":648.4,"s":-0.00248},{"i":652.7,"s":-0.00232},{"i":657,"s":-0.00271},{"i":661.4,"s":-0.00264},{"i":667.1,"s":-0.00183},
{"i":672.8,"s":-0.00036},{"i":678.6,"s":0.00013},{"i":684.3,"s":0.00127},{"i":690.1,"s":0.00225},{"i":695.8,"s":0.00284},{"i":701.5,"s":0.00274},{"i":707.3,"s":0.00209},{"i":713,"s":0.00153},{"i":717.3,"s":0.00160},{"i":721.6,"s":0.00225},
{"i":725.9,"s":0.00241},{"i":730.2,"s":0.00225},{"i":736,"s":0.00185}
  ]
},
"vconcat": [
  {
    "width": 1846,
    "height": 786,
    "resolve": {"scale": {"color": "independent"}},
    "layer": [
      {
        "data": {"name": "zones"},
        "mark": {"type": "rect"},
        "encoding": {
          "x": {"field": "i1", "type": "quantitative", "scale": {"domain": [-0.5, 922.5], "nice": false, "zero": false}, "axis": null},
          "x2": {"field": "i2"},
          "y": {"field": "p1", "type": "quantitative", "scale": {"domain": [1.15825, 1.23888], "nice": false, "zero": false},
                "axis": {"orient": "right", "title": null, "values": [1.2356, 1.2305, 1.2255, 1.2205, 1.2155, 1.2104, 1.2054, 1.2004, 1.1954, 1.1903, 1.1853, 1.1803, 1.1753, 1.1702, 1.1652, 1.1602], "format": ".5f", "labelBaseline": "middle", "labelFlush": false, "labelOverlap": false}},
          "y2": {"field": "p2"},
          "color": {"field": "zone", "type": "nominal", "scale": {"domain": ["top", "fib", "bottom", "small", "pink"], "range": ["#ff0000", "#0000ff", "#ff0000", "#0000ff", "#ff00ff"]}, "legend": null}
        }
      },
      {
        "data": {"name": "bars"},
        "mark": {"type": "rule", "color": "#ffffff", "strokeWidth": 2},
        "encoding": {
          "x": {"field": "i", "type": "quantitative", "axis": null},
          "y": {"field": "l", "type": "quantitative"},
          "y2": {"field": "h"}
        }
      },
      {
        "data": {"name": "ma"},
        "mark": {"type": "line", "strokeWidth": 1},
        "encoding": {
          "x": {"field": "i", "type": "quantitative", "axis": null},
          "y": {"field": "p", "type": "quantitative"},
          "color": {"field": "ma", "type": "nominal", "scale": {"domain": ["fast", "slow"], "range": ["#ffff00", "#ff00ff"]}, "legend": null}
        }
      },
      {
        "data": {"name": "fib"},
        "mark": {"type": "rule", "color": "#ffff00", "strokeWidth": 1},
        "encoding": {
          "x": {"datum": 493, "type": "quantitative", "axis": null},
          "x2": {"datum": 922.5},
          "y": {"field": "p", "type": "quantitative"}
        }
      },
      {
        "data": {"name": "hlines"},
        "mark": {"type": "rule", "strokeWidth": 1},
        "encoding": {
          "y": {"field": "p", "type": "quantitative"},
          "color": {"field": "name", "type": "nominal", "scale": {"domain": ["bid", "alert"], "range": ["#778899", "#ff0000"]}, "legend": null}
        }
      },
      {
        "data": {"name": "trend"},
        "mark": {"type": "line", "color": "#ff0000", "strokeWidth": 1, "strokeDash": [2, 3]},
        "encoding": {
          "x": {"field": "i", "type": "quantitative", "axis": null},
          "y": {"field": "p", "type": "quantitative"}
        }
      },
      {
        "data": {"name": "trend"},
        "mark": {"type": "point", "shape": "square", "filled": true, "color": "#ffffff", "size": 16, "opacity": 1},
        "encoding": {
          "x": {"field": "i", "type": "quantitative", "axis": null},
          "y": {"field": "p", "type": "quantitative"}
        }
      },
      {
        "data": {"name": "arrow"},
        "mark": {"type": "line", "color": "#ff0000", "strokeWidth": 3},
        "encoding": {
          "x": {"field": "i", "type": "quantitative", "axis": null},
          "y": {"field": "p", "type": "quantitative"}
        }
      },
      {
        "data": {"name": "arrow"},
        "mark": {"type": "point", "shape": "square", "filled": true, "color": "#ff0000", "size": 25, "opacity": 1},
        "encoding": {
          "x": {"field": "i", "type": "quantitative", "axis": null},
          "y": {"field": "p", "type": "quantitative"}
        }
      },
      {
        "data": {"name": "fib"},
        "mark": {"type": "text", "color": "#ffff00", "font": "DejaVu Sans", "fontSize": 11, "align": "right", "baseline": "alphabetic", "dy": -3},
        "encoding": {
          "x": {"datum": 922, "type": "quantitative", "axis": null},
          "y": {"field": "p", "type": "quantitative"},
          "text": {"field": "label"}
        }
      },
      {
        "data": {"name": "hlines"},
        "mark": {"type": "rule", "strokeWidth": 15, "strokeCap": "butt"},
        "encoding": {
          "x": {"datum": 923.5, "type": "quantitative", "axis": null},
          "x2": {"datum": 951.5},
          "y": {"field": "p", "type": "quantitative"},
          "color": {"field": "name", "type": "nominal", "scale": {"domain": ["bid", "alert"], "range": ["#ffffff", "#ff0000"]}, "legend": null}
        }
      },
      {
        "data": {"name": "hlines"},
        "mark": {"type": "text", "color": "#000000", "font": "DejaVu Sans", "fontSize": 11, "align": "left", "baseline": "middle"},
        "encoding": {
          "x": {"datum": 926, "type": "quantitative", "axis": null},
          "y": {"field": "p", "type": "quantitative"},
          "text": {"field": "label"}
        }
      },
      {
        "data": {"values": [{"t": "▼ EURUSDm,H4\u00a0\u00a01.19686 1.19746 1.19421 1.19495"}]},
        "mark": {"type": "text", "color": "#ffffff", "font": "DejaVu Sans", "fontSize": 11, "align": "left", "baseline": "alphabetic"},
        "encoding": {
          "x": {"datum": 2, "type": "quantitative", "axis": null},
          "y": {"datum": 1.23734, "type": "quantitative"},
          "text": {"field": "t"}
        }
      }
    ]
  },
  {
    "width": 1846,
    "height": 119,
    "layer": [
      {
        "data": {"name": "macd"},
        "mark": {"type": "area", "color": "#c0c0c0", "opacity": 1},
        "encoding": {
          "x": {"field": "i", "type": "quantitative", "scale": {"domain": [-0.5, 922.5], "nice": false, "zero": false},
                "axis": {"orient": "bottom", "title": null, "values": [0, 48, 96, 144, 192, 240, 288, 336, 384, 432, 480, 528, 576, 624, 672, 720],
                         "labelExpr": "['30 Oct 2020','11 Nov 04:00','22 Nov 22:00','2 Dec 16:00','14 Dec 08:00','24 Dec 04:00','6 Jan 20:00','18 Jan 12:00','28 Jan 08:00','9 Feb 00:00','18 Feb 20:00','2 Mar 12:00','12 Mar 08:00','24 Mar 00:00','2 Apr 20:00','14 Apr 12:00'][round(datum.value/48)]",
                         "labelAlign": "left", "labelBaseline": "top", "labelOffset": 2, "labelPadding": 2, "labelFlush": false, "labelOverlap": false, "labelBound": false}},
          "y": {"field": "v", "type": "quantitative", "stack": null, "scale": {"domain": [-0.005844, 0.005803], "nice": false, "zero": false},
                "axis": {"orient": "right", "title": null, "values": [-0.005844, 0, 0.005803],
                         "labelExpr": "datum.value > 0.005 ? '0.005803' : (datum.value < -0.005 ? '-0.005844' : '0.00')",
                         "labelFlush": true, "labelFlushOffset": -2, "labelOverlap": false, "labelPadding": 0}},
          "y2": {"datum": 0}
        }
      },
      {
        "data": {"name": "signal"},
        "mark": {"type": "line", "color": "#ff0000", "strokeWidth": 1},
        "encoding": {
          "x": {"field": "i", "type": "quantitative"},
          "y": {"field": "s", "type": "quantitative"}
        }
      },
      {
        "data": {"values": [{"t": "MACD(12,26,9) 0.001324 0.001850"}]},
        "mark": {"type": "text", "color": "#ffffff", "font": "DejaVu Sans", "fontSize": 11, "align": "left", "baseline": "alphabetic"},
        "encoding": {
          "x": {"datum": 2.3, "type": "quantitative"},
          "y": {"datum": 0.00431, "type": "quantitative"},
          "text": {"field": "t"}
        }
      }
    ]
  }
]
}
